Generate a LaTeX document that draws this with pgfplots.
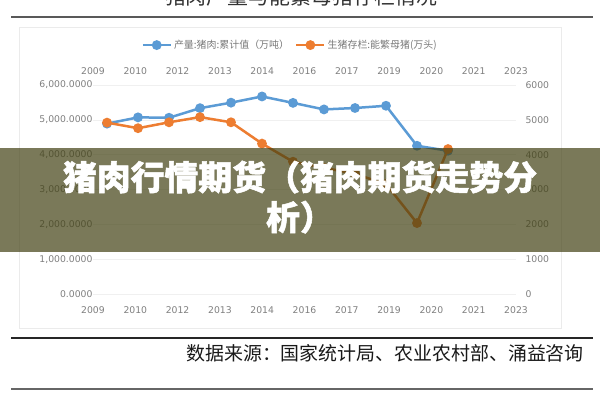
\documentclass[border=0pt]{standalone}
\usepackage{fontspec}
\setmainfont{Noto Sans CJK SC}
\newfontfamily\heavy[BoldFeatures={FakeBold=1.5}]{Noto Sans CJK SC}
\newfontfamily\tickfont{DejaVu Sans}
\usepackage{pgfplots}
\pgfplotsset{compat=1.18}
\definecolor{cblue}{HTML}{5B9BD5}
\definecolor{corange}{HTML}{ED7D31}
\definecolor{ticktext}{HTML}{808080}
\definecolor{legtext}{HTML}{7A7A7A}
\definecolor{banner}{RGB}{66,65,19}

\pgfplotsset{
  base/.style={
    scale only axis, width=423bp, height=209bp,
    at={(93bp,106bp)}, anchor=south west,
    xmin=-0.452, xmax=13.194, ymin=0, ymax=6000,
    ytick={0,1000,...,6000},
    xtick={-0.452,0.913,2.277,3.642,5.006,6.371,7.735,9.100,10.464,11.829,13.194},
    xticklabels={2009,2010,2012,2013,2014,2016,2017,2019,2020,2021,2023},
    axis line style={draw=none}, major tick style={draw=none},
    ticklabel style={font=\tickfont\fontsize{9.3}{10}\selectfont, text=ticktext},
    /pgf/number format/assume math mode=true,
    clip=false,
  },
}

\begin{document}
\begin{tikzpicture}[x=1bp,y=1bp]
\path[use as bounding box, fill=white] (0,0) rectangle (600,400);
\begin{scope}
\clip (0,0) rectangle (600,400);
\node[anchor=base, font=\fontsize{21}{21}\selectfont, text=black!80, inner sep=0] at (301,395) {猪肉产量与能繁母猪存栏情况};
\end{scope}
\draw[line width=2bp, color=black!65] (11,383) -- (593,383);
\draw[color=black!8, line width=0.8bp] (19,72) rectangle (561,373);

\begin{axis}[base,
  axis x line*=bottom, axis y line*=left,
  ymajorgrids, grid style={color=black!6, line width=0.6bp},
  yticklabel style={xshift=3bp, /pgf/number format/.cd, fixed, fixed zerofill, precision=4, 1000 sep={,}},
  xticklabel style={yshift=-9bp},
]
\addplot[cblue, line width=2.5bp, mark=*, mark size=3.6bp] coordinates {
(0,4891) (1,5071) (2,5060) (3,5335) (4,5493) (5,5671) (6,5487) (7,5299) (8,5340) (9,5404) (10,4255) (11,4113)};
\end{axis}

\begin{axis}[base,
  axis x line*=top, axis y line*=right,
  yticklabel style={xshift=6bp, /pgf/number format/.cd, fixed, precision=0, 1000 sep={}},
  xticklabel style={yshift=7bp},
  legend columns=2,
  legend style={at={(0.466,1.191)}, anchor=center, draw=none, fill=none,
    font=\fontsize{10}{10}\selectfont, text=legtext,
    /tikz/every even column/.append style={column sep=4bp}},
  legend image code/.code={\draw[mark repeat=2,mark phase=2,#1] plot coordinates {(0bp,0bp) (14bp,0bp) (28bp,0bp)};},
]
\addlegendimage{cblue, line width=2.5bp, mark=*, mark size=3.6bp}
\addlegendentry{产量:猪肉:累计值（万吨）}
\addplot[corange, line width=2.5bp, mark=*, mark size=3.6bp] coordinates {
(0,4920) (1,4760) (2,4929) (3,5078) (4,4930) (5,4318) (6,3798) (7,3627) (8,3447) (9,3157) (10,2037) (11,4161)};
\addlegendentry{生猪存栏:能繁母猪(万头)}
\end{axis}

\fill[banner, opacity=0.7] (0,148) rectangle (600,252);
\node[anchor=base, text=white, font=\heavy\fontsize{34}{40}\selectfont\bfseries, inner sep=0] at (300,210) {猪肉行情期货（猪肉期货走势分};
\node[anchor=base, text=white, font=\heavy\fontsize{34}{40}\selectfont\bfseries, inner sep=0] at (300,170) {析）};

\draw[line width=1.2bp, color=black!85] (11,62) -- (593,62);
\node[anchor=base east, font=\fontsize{19}{19}\selectfont, text=black!90, inner sep=0] at (584,40) {数据来源：国家统计局、农业农村部、涌益咨询};
\draw[line width=2bp, color=black!60] (11,11) -- (593,11);
\end{tikzpicture}
\end{document}
